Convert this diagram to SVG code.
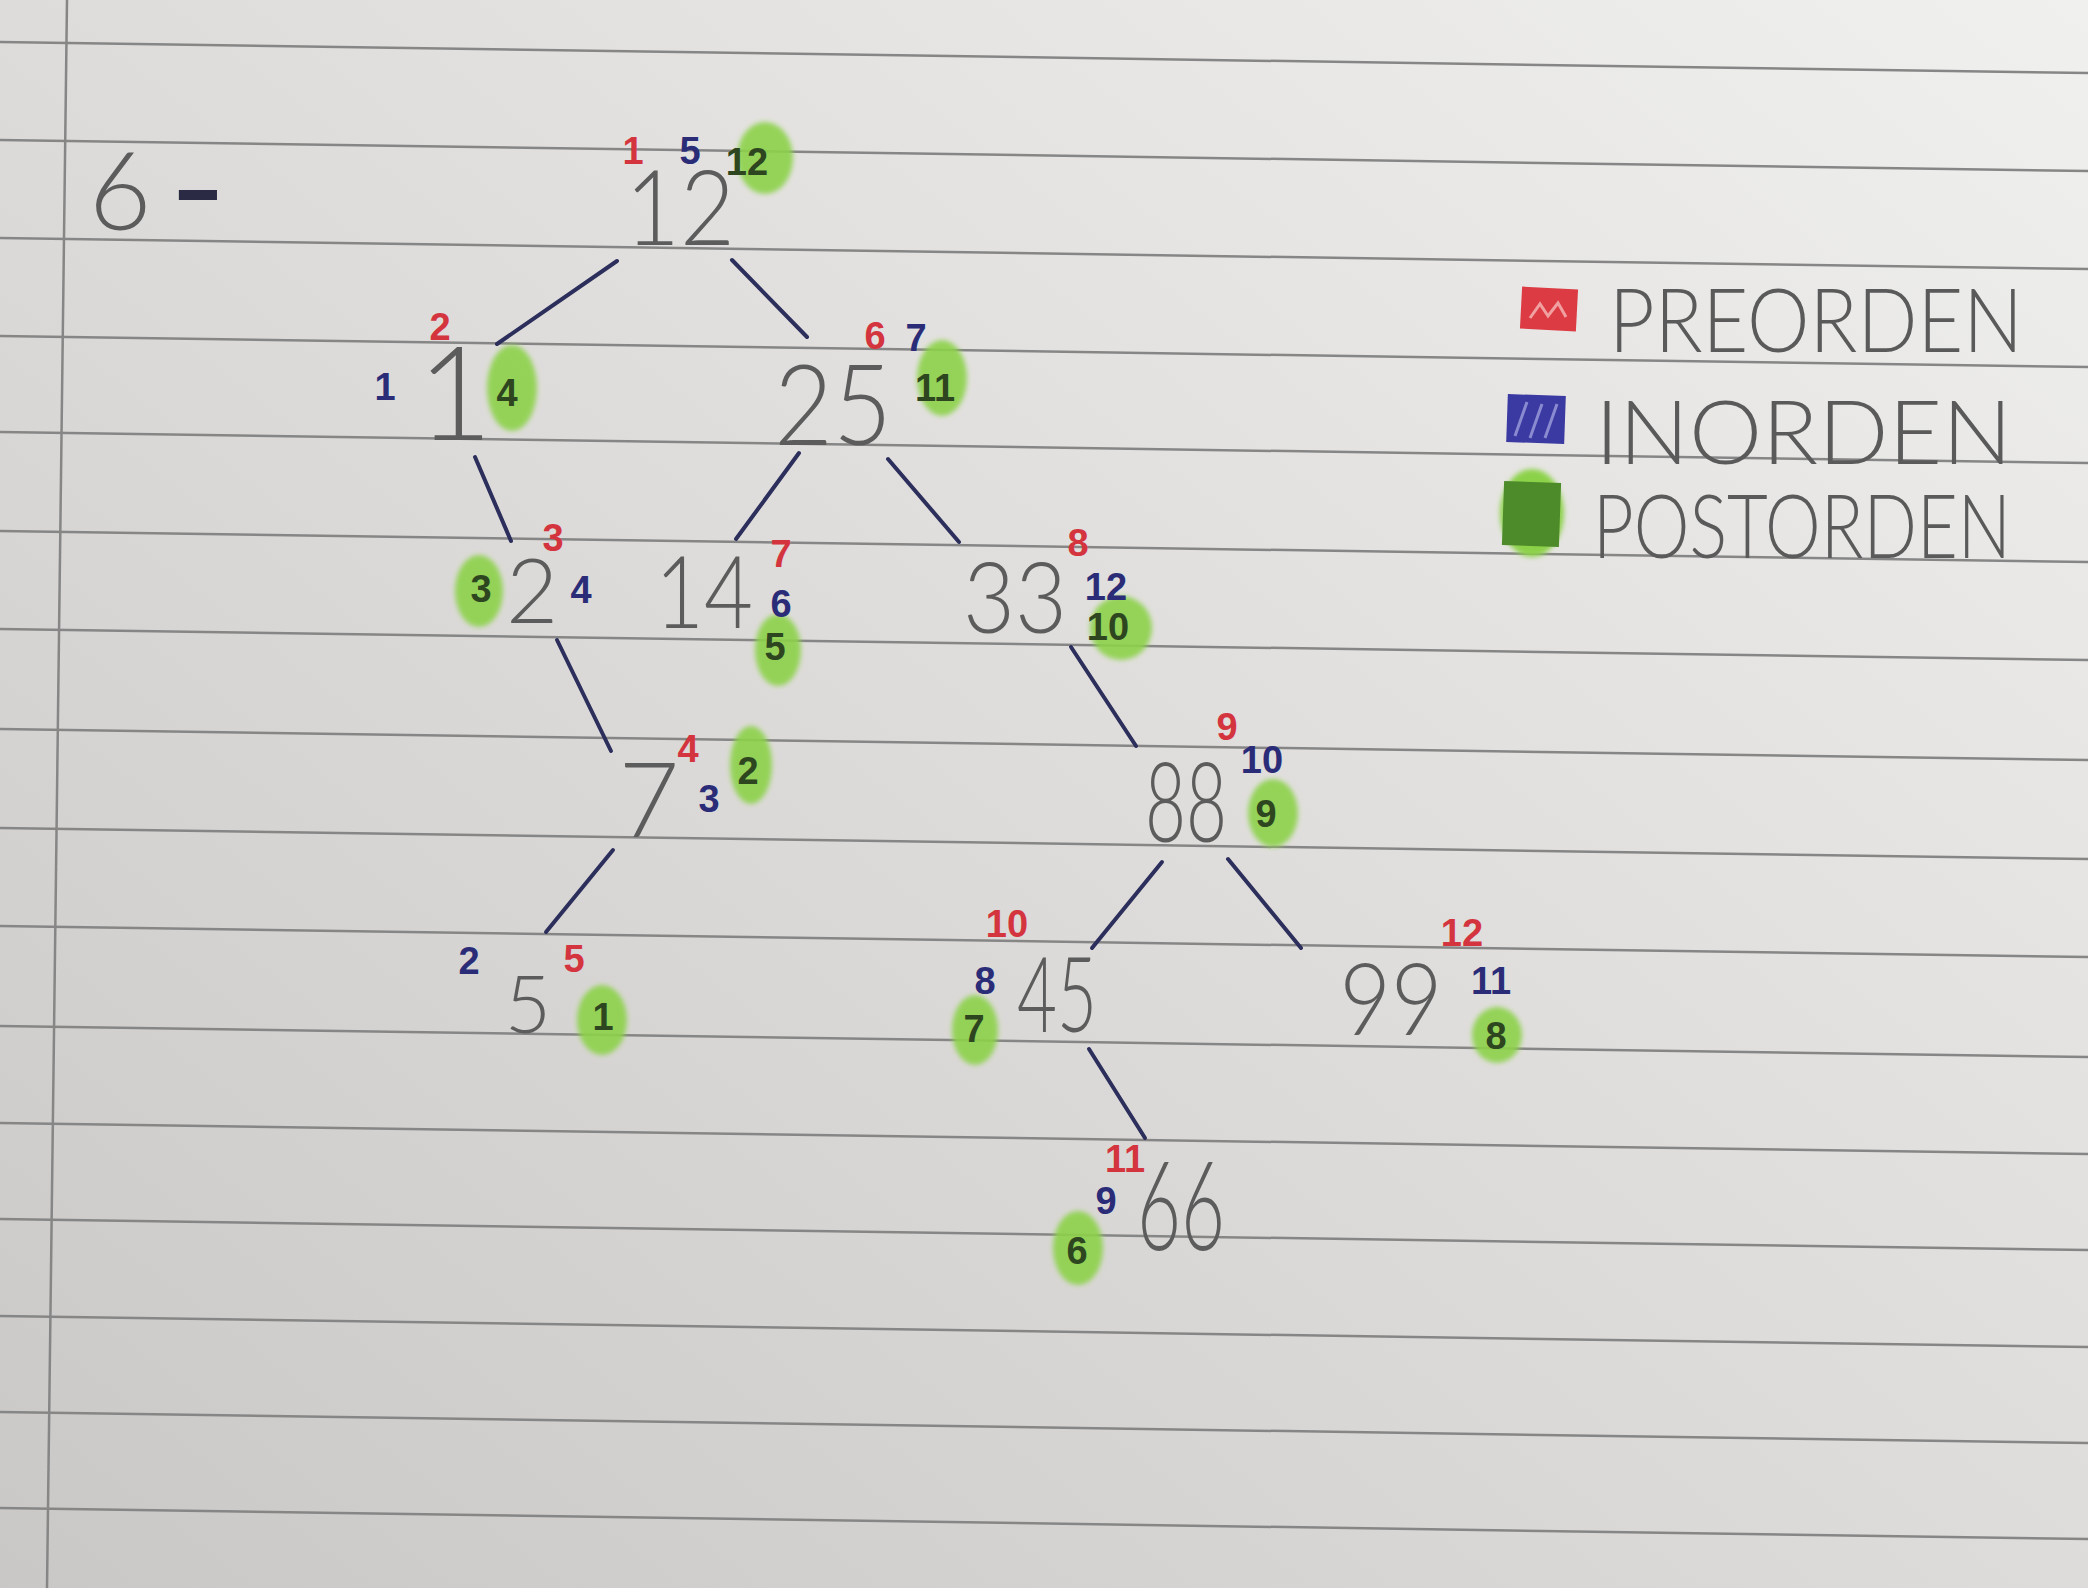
<svg xmlns="http://www.w3.org/2000/svg" width="2088" height="1588" viewBox="0 0 2088 1588">
<defs>
<linearGradient id="paper" x1="1" y1="0" x2="0" y2="1">
<stop offset="0" stop-color="#f0f0ee"/>
<stop offset="0.5" stop-color="#dedcda"/>
<stop offset="1" stop-color="#cac8c6"/>
</linearGradient>
<filter id="soft" x="-30%" y="-30%" width="160%" height="160%"><feGaussianBlur stdDeviation="2.5"/></filter>
<style>
.rule{stroke:#868686;stroke-width:2.5;fill:none}
.edge{stroke:#2c2e5c;stroke-width:4;stroke-linecap:round;fill:none}
.val{font-family:"Lato","Liberation Sans",Arial,sans-serif;font-weight:300;fill:#5c5c5c;text-anchor:middle}
.ann{font-family:"Liberation Sans",Arial,sans-serif;font-weight:bold;font-size:38px;text-anchor:middle}
.pre{fill:#d4343e}
.in{fill:#2b2c78}
.post{fill:#2e4620}
.blob{fill:#8cd24a;opacity:0.9;filter:url(#soft)}
.leg{font-family:"Lato","Liberation Sans",Arial,sans-serif;font-weight:300;font-size:88px;fill:#5a5a5a}
</style>
</defs>
<rect width="2088" height="1588" fill="url(#paper)"/>
<g id="ruling">
<line class="rule" x1="0" y1="42" x2="2088" y2="73"/>
<line class="rule" x1="0" y1="140" x2="2088" y2="171"/>
<line class="rule" x1="0" y1="238" x2="2088" y2="269"/>
<line class="rule" x1="0" y1="336" x2="2088" y2="367"/>
<line class="rule" x1="0" y1="432" x2="2088" y2="463"/>
<line class="rule" x1="0" y1="531" x2="2088" y2="562"/>
<line class="rule" x1="0" y1="629" x2="2088" y2="660"/>
<line class="rule" x1="0" y1="729" x2="2088" y2="760"/>
<line class="rule" x1="0" y1="828" x2="2088" y2="859"/>
<line class="rule" x1="0" y1="926" x2="2088" y2="957"/>
<line class="rule" x1="0" y1="1026" x2="2088" y2="1057"/>
<line class="rule" x1="0" y1="1123" x2="2088" y2="1154"/>
<line class="rule" x1="0" y1="1219" x2="2088" y2="1250"/>
<line class="rule" x1="0" y1="1316" x2="2088" y2="1347"/>
<line class="rule" x1="0" y1="1412" x2="2088" y2="1443"/>
<line class="rule" x1="0" y1="1508" x2="2088" y2="1539"/>
<line class="rule" x1="67" y1="0" x2="47" y2="1588"/>
</g>
<g id="title">
<text class="val" x="120" y="230" font-size="108">6</text>
<text x="173" y="217" font-family="Liberation Sans, Arial, sans-serif" font-weight="bold" font-size="84" fill="#2a2a44" textLength="50" lengthAdjust="spacingAndGlyphs">-</text>
</g>
<g id="legend">
<rect x="1521" y="288" width="56" height="42" fill="#dc3b43" transform="rotate(3 1549 309)"/>
<path d="M1530 318 l10 -14 l8 12 l10 -13 l8 14" stroke="#f0a0a0" stroke-width="3" fill="none"/>
<text class="leg" x="1609" y="352" textLength="414" lengthAdjust="spacingAndGlyphs">PREORDEN</text>
<rect x="1507" y="395" width="58" height="48" fill="#3a3aa2" transform="rotate(2 1536 419)"/>
<path d="M1515 436 l12 -34 M1530 438 l12 -34 M1545 438 l12 -34" stroke="#8a8ad0" stroke-width="3" fill="none"/>
<text class="leg" x="1595" y="464" textLength="417" lengthAdjust="spacingAndGlyphs">INORDEN</text>
<ellipse cx="1532" cy="513" rx="32" ry="44" fill="#8cd24a" filter="url(#soft)"/>
<rect x="1503" y="482" width="57" height="64" fill="#4d8a2a" transform="rotate(2 1531 514)"/>
<text class="leg" x="1593" y="558" textLength="418" lengthAdjust="spacingAndGlyphs">POSTORDEN</text>
</g>
<g id="connectors">
<line class="edge" x1="617" y1="261" x2="497" y2="344"/>
<line class="edge" x1="732" y1="260" x2="807" y2="337"/>
<line class="edge" x1="475" y1="457" x2="511" y2="541"/>
<line class="edge" x1="799" y1="453" x2="736" y2="539"/>
<line class="edge" x1="888" y1="459" x2="959" y2="542"/>
<line class="edge" x1="557" y1="640" x2="611" y2="751"/>
<line class="edge" x1="1071" y1="647" x2="1136" y2="746"/>
<line class="edge" x1="613" y1="850" x2="546" y2="932"/>
<line class="edge" x1="1162" y1="862" x2="1092" y2="948"/>
<line class="edge" x1="1228" y1="859" x2="1301" y2="948"/>
<line class="edge" x1="1089" y1="1049" x2="1145" y2="1138"/>
</g>
<g id="node-12">
<ellipse class="blob" cx="765" cy="158" rx="28" ry="36"/>
<text class="val" x="680" y="245" font-size="105" textLength="110" lengthAdjust="spacingAndGlyphs">12</text>
<text class="ann pre" x="633" y="164">1</text>
<text class="ann in" x="690" y="164">5</text>
<text class="ann post" x="747" y="175">12</text>
</g>
<g id="node-1">
<ellipse class="blob" cx="512" cy="388" rx="25" ry="43"/>
<text class="val" x="455" y="440" font-size="130">1</text>
<text class="ann in" x="385" y="400">1</text>
<text class="ann pre" x="440" y="340">2</text>
<text class="ann post" x="507" y="406">4</text>
</g>
<g id="node-25">
<ellipse class="blob" cx="942" cy="378" rx="25" ry="38"/>
<text class="val" x="833" y="445" font-size="112" textLength="118" lengthAdjust="spacingAndGlyphs">25</text>
<text class="ann pre" x="875" y="349">6</text>
<text class="ann in" x="916" y="351">7</text>
<text class="ann post" x="935" y="401">11</text>
</g>
<g id="node-2">
<ellipse class="blob" cx="479" cy="591" rx="24" ry="36"/>
<text class="val" x="532" y="623" font-size="90">2</text>
<text class="ann pre" x="553" y="551">3</text>
<text class="ann in" x="581" y="603">4</text>
<text class="ann post" x="481" y="602">3</text>
</g>
<g id="node-14">
<ellipse class="blob" cx="778" cy="650" rx="23" ry="36"/>
<text class="val" x="704" y="628" font-size="100" textLength="98" lengthAdjust="spacingAndGlyphs">14</text>
<text class="ann pre" x="781" y="567">7</text>
<text class="ann in" x="781" y="617">6</text>
<text class="ann post" x="775" y="660">5</text>
</g>
<g id="node-33">
<ellipse class="blob" cx="1121" cy="628" rx="31" ry="32"/>
<text class="val" x="1015" y="633" font-size="98" textLength="104" lengthAdjust="spacingAndGlyphs">33</text>
<text class="ann pre" x="1078" y="556">8</text>
<text class="ann in" x="1106" y="600">12</text>
<text class="ann post" x="1108" y="640">10</text>
</g>
<g id="node-7">
<ellipse class="blob" cx="751" cy="765" rx="21" ry="39"/>
<text class="val" x="649" y="837" font-size="105">7</text>
<text class="ann pre" x="688" y="762">4</text>
<text class="ann in" x="709" y="812">3</text>
<text class="ann post" x="748" y="784">2</text>
</g>
<g id="node-88">
<ellipse class="blob" cx="1273" cy="813" rx="25" ry="34"/>
<text class="val" x="1186" y="842" font-size="110" textLength="82" lengthAdjust="spacingAndGlyphs">88</text>
<text class="ann pre" x="1227" y="740">9</text>
<text class="ann in" x="1262" y="773">10</text>
<text class="ann post" x="1266" y="827">9</text>
</g>
<g id="node-5">
<ellipse class="blob" cx="602" cy="1020" rx="25" ry="35"/>
<text class="val" x="528" y="1033" font-size="80">5</text>
<text class="ann pre" x="574" y="972">5</text>
<text class="ann in" x="469" y="974">2</text>
<text class="ann post" x="603" y="1030">1</text>
</g>
<g id="node-45">
<ellipse class="blob" cx="975" cy="1030" rx="23" ry="35"/>
<text class="val" x="1057" y="1032" font-size="105" textLength="80" lengthAdjust="spacingAndGlyphs">45</text>
<text class="ann pre" x="1007" y="937">10</text>
<text class="ann in" x="985" y="994">8</text>
<text class="ann post" x="974" y="1042">7</text>
</g>
<g id="node-99">
<ellipse class="blob" cx="1497" cy="1035" rx="25" ry="28"/>
<text class="val" x="1391" y="1035" font-size="100" textLength="103" lengthAdjust="spacingAndGlyphs">99</text>
<text class="ann pre" x="1462" y="946">12</text>
<text class="ann in" x="1491" y="994">11</text>
<text class="ann post" x="1496" y="1049">8</text>
</g>
<g id="node-66">
<ellipse class="blob" cx="1078" cy="1248" rx="25" ry="37"/>
<text class="val" x="1181" y="1250" font-size="125" textLength="88" lengthAdjust="spacingAndGlyphs">66</text>
<text class="ann pre" x="1125" y="1172">11</text>
<text class="ann in" x="1106" y="1214">9</text>
<text class="ann post" x="1077" y="1264">6</text>
</g>
</svg>
